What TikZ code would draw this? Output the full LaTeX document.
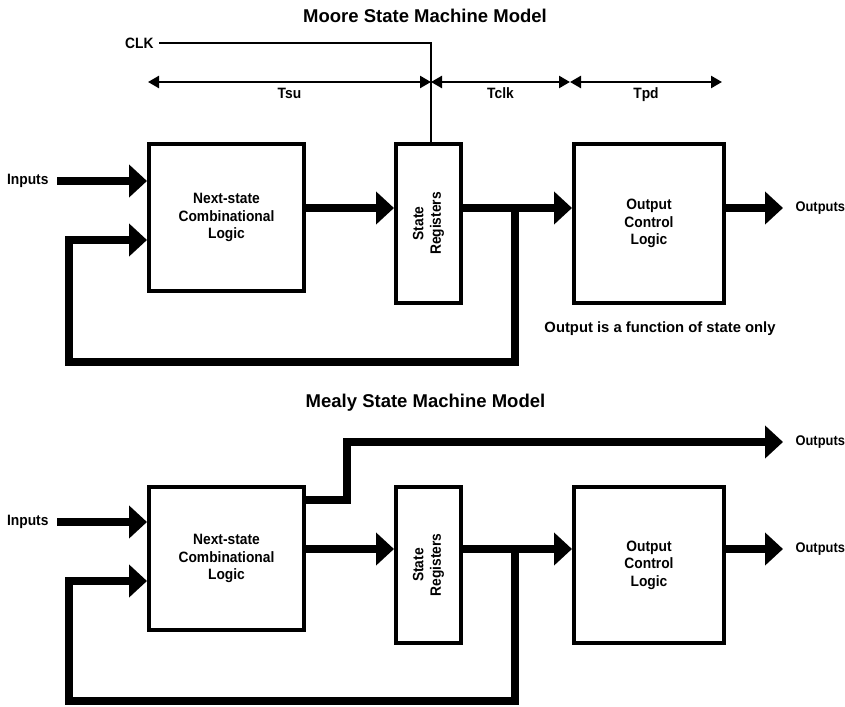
\documentclass[tikz,border=0pt]{standalone}
\usepackage{fontspec}
\setmainfont{Liberation Sans}
\newfontfamily\lblfont[FakeStretch=0.92]{Liberation Sans}
\usetikzlibrary{arrows.meta, positioning}

\begin{document}
\begin{tikzpicture}[
  x=1pt, y=-1pt,
  font=\lblfont\bfseries\fontsize{15}{17.5}\selectfont,
  blockbox/.style={draw, line width=4pt, align=center, inner sep=0pt},
  bus/.style={line width=8.5pt, -{Triangle[length=18pt, width=32pt]}},
  dimarr/.style={line width=2.4pt,
    {Triangle[length=11pt, width=12pt]}-{Triangle[length=11pt, width=12pt]}},
  clkline/.style={line width=2.4pt},
  outlbl/.style={right=5pt, font=\lblfont\bfseries\fontsize{14}{17}\selectfont},
  ttl/.style={font=\bfseries\fontsize{18.5}{22}\selectfont},
  ]
\path[use as bounding box, fill=white] (0,0) rectangle (845,706);

% Moore
\node[ttl] (moore) at (425,16) {Moore State Machine Model};
\node[blockbox, minimum width=155pt, minimum height=147pt] (ns1) at (226.5,217.5)
  {Next-state\\Combinational\\Logic};
\node[blockbox, minimum width=65pt, minimum height=159pt] (sr1) at (428.5,223.5) {};
\node[rotate=90, align=center] (srt1) at (sr1) {State\\Registers};
\node[blockbox, minimum width=150pt, minimum height=159pt] (oc1) at (649,223.5)
  {Output\\Control\\Logic};

\coordinate (in1) at (57,181);
\coordinate (fbin1) at (69,240);
\coordinate (fb1) at (69,362);
\coordinate (row1) at (0,208);
\coordinate (br1) at (515,208);
\coordinate (out1) at (783,208);
\coordinate (clk1) at (159,43);
\coordinate (ck1) at (431,43);
\coordinate (d0) at (148,82);
\coordinate (d1) at (431,82);
\coordinate (d2) at (570,82);
\coordinate (d3) at (722,82);

\node[left=5pt] (inl1) at (in1) {Inputs};
\node[left=2pt] (clk) at (clk1) {CLK};
\node[font=\bfseries\fontsize{14.8}{17}\selectfont] (note1) at (660,329)
  {Output is a function of state only};

\draw[clkline] (clk1) -- (ck1) -- (ck1 |- sr1.north);
\draw[dimarr] (d0) -- node[anchor=base, yshift=-17pt] {Tsu} (d1);
\draw[dimarr] (d1) -- node[anchor=base, yshift=-17pt] {Tclk} (d2);
\draw[dimarr] (d2) -- node[anchor=base, yshift=-17pt] {Tpd} (d3);

\draw[bus] (in1) -- (in1 -| ns1.west);
\draw[bus] (row1 -| ns1.east) -- (row1 -| sr1.west);
\draw[bus] (row1 -| sr1.east) -- (row1 -| oc1.west);
\draw[bus] (row1 -| oc1.east) -- (out1) node[outlbl] (outl1) {Outputs};
\draw[bus] (br1) |- (fb1) -- (fbin1) -- (fbin1 -| ns1.west);

% Mealy
\node[ttl] (mealy) at (425.5,403) {Mealy State Machine Model};
\node[blockbox, minimum width=155pt, minimum height=143pt] (ns2) at (226.5,558.5)
  {Next-state\\Combinational\\Logic};
\node[blockbox, minimum width=65pt, minimum height=156pt] (sr2) at (428.5,565) {};
\node[rotate=90, align=center] (srt2) at (sr2) {State\\Registers};
\node[blockbox, minimum width=150pt, minimum height=156pt] (oc2) at (649,565)
  {Output\\Control\\Logic};

\coordinate (in2) at (57,522);
\coordinate (fbin2) at (69,581);
\coordinate (fb2) at (69,701);
\coordinate (row2) at (0,549);
\coordinate (row3) at (0,500);
\coordinate (br2) at (515,549);
\coordinate (up2) at (347,442);
\coordinate (out2) at (783,549);
\coordinate (out3) at (783,442);

\node[left=5pt] (inl2) at (in2) {Inputs};

\draw[bus] (in2) -- (in2 -| ns2.west);
\draw[bus] (row2 -| ns2.east) -- (row2 -| sr2.west);
\draw[bus] (row2 -| sr2.east) -- (row2 -| oc2.west);
\draw[bus] (row2 -| oc2.east) -- (out2) node[outlbl] (outl2) {Outputs};
\draw[bus] (row3 -| ns2.east) -| (up2) -- (out3) node[outlbl] (outl3) {Outputs};
\draw[bus] (br2) |- (fb2) -- (fbin2) -- (fbin2 -| ns2.west);
\end{tikzpicture}
\end{document}
